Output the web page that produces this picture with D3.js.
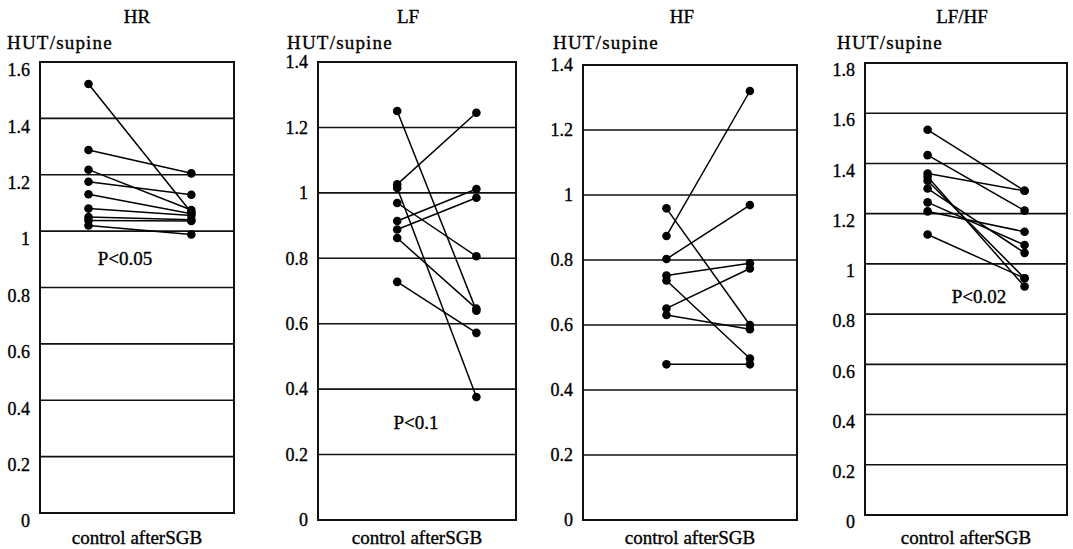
<!DOCTYPE html>
<html>
<head>
<meta charset="utf-8">
<script src="https://cdn.jsdelivr.net/npm/d3@7"></script>
<style>
  html, body { margin: 0; padding: 0; background: #fff; }
  svg { display: block; }
  svg text { font-family: "Liberation Serif", "Times New Roman", serif; fill: #000; stroke: #000; stroke-width: 0.35px; }
</style>
</head>
<body>
<svg id="chart" width="1073" height="549"></svg>
<script>
// ---------- data ----------
const panelTitles = ["HR", "LF", "HF", "LF/HF"];
const groups = ["control", "afterSGB"];
const yLabel = "HUT/supine";
const xLabel = "control afterSGB";

const hrControl = [1.522, 1.288, 1.218, 1.175, 1.131, 1.080, 1.050, 1.038, 1.020];
const hrAfter   = [1.066, 1.205, 1.075, 1.129, 1.062, 1.055, 1.040, 1.036, 0.988];

const lfControl = [1.250, 1.026, 1.015, 0.969, 0.914, 0.888, 0.862, 0.728];
const lfAfter   = [0.640, 1.245, 0.376, 0.806, 1.012, 0.985, 0.646, 0.572];

const hfControl = [0.959, 0.874, 0.803, 0.752, 0.737, 0.651, 0.631, 0.479];
const hfAfter   = [0.600, 1.320, 0.969, 0.790, 0.497, 0.774, 0.587, 0.479];

const lfhfControl = [1.534, 1.433, 1.360, 1.347, 1.331, 1.300, 1.245, 1.209, 1.117];
const lfhfAfter   = [1.291, 1.212, 1.291, 0.910, 0.943, 1.044, 1.075, 1.128, 0.943];

const hrTicks   = [0, 0.2, 0.4, 0.6, 0.8, 1, 1.2, 1.4, 1.6];
const lfTicks   = [0, 0.2, 0.4, 0.6, 0.8, 1, 1.2, 1.4];
const hfTicks   = [0, 0.2, 0.4, 0.6, 0.8, 1, 1.2, 1.4];
const lfhfTicks = [0, 0.2, 0.4, 0.6, 0.8, 1, 1.2, 1.4, 1.6, 1.8];

const hrTickLabels   = ["0", "0.2", "0.4", "0.6", "0.8", "1", "1.2", "1.4", "1.6"];
const lfTickLabels   = ["0", "0.2", "0.4", "0.6", "0.8", "1", "1.2", "1.4"];
const hfTickLabels   = ["0", "0.2", "0.4", "0.6", "0.8", "1", "1.2", "1.4"];
const lfhfTickLabels = ["0", "0.2", "0.4", "0.6", "0.8", "1", "1.2", "1.4", "1.6", "1.8"];

const pLabels = ["P<0.05", "P<0.1", "", "P<0.02"];
const pValuesAt = [0.905, 0.30, null, 0.87]; // vertical placement of the P label, in data units

// ---------- layout (positions/sizes only) ----------
const layout = [
  { left: 40,  right: 234,  top: 62, bottom: 513, xa: 0.25, xb: 0.78, tickDy: 8, titleX: 137, yLabX: 7,   pX: 125 },
  { left: 318, right: 516,  top: 62, bottom: 520, xa: 0.40, xb: 0.80, tickDy: 0, titleX: 408, yLabX: 287, pX: 416 },
  { left: 583, right: 797,  top: 65, bottom: 520, xa: 0.39, xb: 0.78, tickDy: 0, titleX: 682, yLabX: 553, pX: 0 },
  { left: 865, right: 1067, top: 63, bottom: 515, xa: 0.31, xb: 0.79, tickDy: 7, titleX: 962, yLabX: 837, pX: 979 }
];

const panels = [
  { control: hrControl,   after: hrAfter,   ticks: hrTicks,   labels: hrTickLabels },
  { control: lfControl,   after: lfAfter,   ticks: lfTicks,   labels: lfTickLabels },
  { control: hfControl,   after: hfAfter,   ticks: hfTicks,   labels: hfTickLabels },
  { control: lfhfControl, after: lfhfAfter, ticks: lfhfTicks, labels: lfhfTickLabels }
];

const FONT = '"Liberation Serif", "Times New Roman", serif';
const svg = d3.select("#chart");

panels.forEach((p, i) => {
  const L = layout[i];
  const g = svg.append("g");
  const yMax = p.ticks[p.ticks.length - 1];
  const y = d3.scaleLinear().domain([0, yMax]).range([L.bottom, L.top]);
  const w = L.right - L.left;
  const x = d3.scalePoint().domain(groups).range([L.left + L.xa * w, L.left + L.xb * w]);

  // gridlines (inner ticks)
  g.selectAll("line.grid")
    .data(p.ticks.filter(t => t > 0 && t < yMax))
    .join("line")
    .attr("x1", L.left).attr("x2", L.right)
    .attr("y1", d => y(d)).attr("y2", d => y(d))
    .attr("stroke", "#111").attr("stroke-width", 1.6);

  // frame
  g.append("rect")
    .attr("x", L.left).attr("y", y(yMax))
    .attr("width", w).attr("height", y(0) - y(yMax))
    .attr("fill", "none").attr("stroke", "#111").attr("stroke-width", 2);

  // y axis labels
  const axis = d3.axisLeft(y)
    .tickValues(p.ticks)
    .tickFormat((d, k) => p.labels[k])
    .tickSize(0)
    .tickPadding(10);
  const ag = g.append("g").attr("transform", `translate(${L.left},0)`).call(axis);
  ag.attr("font-family", FONT).attr("font-size", 18);
  ag.select(".domain").remove();
  ag.selectAll("text")
    .style("font-family", FONT)
    .attr("font-size", 18)
    .attr("fill", "#000")
    .attr("dy", "0.32em")
    .attr("transform", `translate(0,${L.tickDy})`);

  // connecting lines
  const pairs = p.control.map((c, k) => ({ c: c, a: p.after[k] }));
  g.selectAll("line.pair")
    .data(pairs)
    .join("line")
    .attr("x1", x("control")).attr("x2", x("afterSGB"))
    .attr("y1", d => y(d.c)).attr("y2", d => y(d.a))
    .attr("stroke", "#000").attr("stroke-width", 1.5);

  // points
  g.selectAll("circle.c")
    .data(p.control)
    .join("circle")
    .attr("cx", x("control")).attr("cy", d => y(d))
    .attr("r", 4.3).attr("fill", "#000");
  g.selectAll("circle.a")
    .data(p.after)
    .join("circle")
    .attr("cx", x("afterSGB")).attr("cy", d => y(d))
    .attr("r", 4.3).attr("fill", "#000");

  // title
  g.append("text")
    .attr("x", L.titleX).attr("y", 23)
    .attr("text-anchor", "middle")
    .style("font-family", FONT)
    .attr("font-size", 19)
    .text(panelTitles[i]);

  // y label
  g.append("text")
    .attr("x", L.yLabX).attr("y", 49)
    .style("font-family", FONT)
    .attr("font-size", 19)
    .attr("letter-spacing", 1.2)
    .text(yLabel);

  // x label
  g.append("text")
    .attr("x", (L.left + L.right) / 2).attr("y", 544)
    .attr("text-anchor", "middle")
    .style("font-family", FONT)
    .attr("font-size", 19)
    .text(xLabel);

  // p-value
  if (pLabels[i]) {
    g.append("text")
      .attr("x", L.pX).attr("y", y(pValuesAt[i]))
      .attr("text-anchor", "middle")
      .attr("dy", "0.35em")
      .style("font-family", FONT)
      .attr("font-size", 19)
      .text(pLabels[i]);
  }
});
</script>
</body>
</html>
